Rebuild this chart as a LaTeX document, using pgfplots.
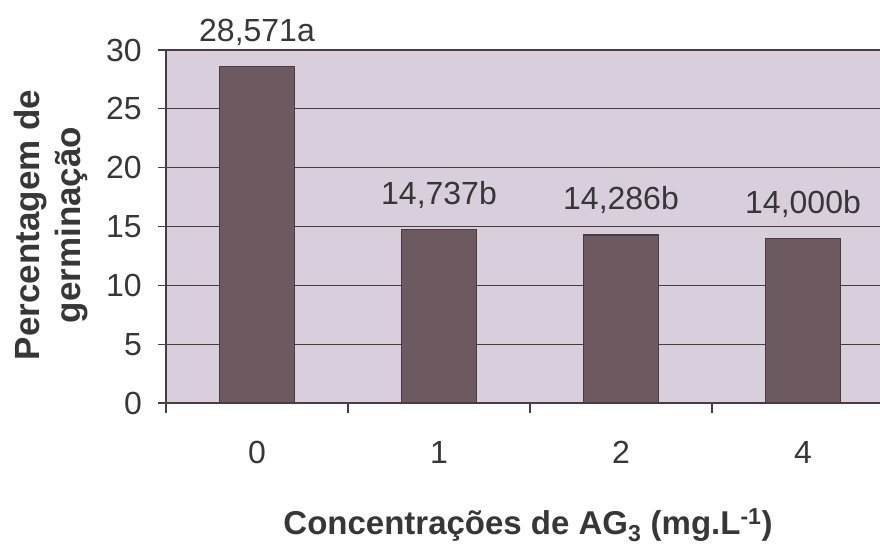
\documentclass[border=0pt]{standalone}
\usepackage{pgfplots}
\pgfplotsset{compat=1.18}
\usepackage{pgfplotstable}
\usepackage{fontspec}
\setmainfont{Liberation Sans}
\definecolor{bgc}{RGB}{216,206,220}
\definecolor{barc}{RGB}{108,90,96}
\definecolor{barline}{RGB}{72,60,66}
\definecolor{gridc}{RGB}{70,62,68}
\definecolor{txtc}{RGB}{55,55,55}
\pgfplotstableread{
x y lab
0 28.571 28,571a
1 14.737 14,737b
2 14.286 14,286b
3 14.000 14,000b
}\datatab
\begin{document}
\begin{tikzpicture}[x=1pt,y=1pt]
\useasboundingbox (0,0) rectangle (880,547);
\begin{axis}[
  at={(166pt,144pt)}, anchor=south west,
  scale only axis, width=714pt, height=353pt,
  xmin=-0.5, xmax=3.423, ymin=0, ymax=30,
  clip=false,
  axis background/.style={fill=bgc},
  axis lines=left,
  axis line style={-, draw=gridc, line width=1.2pt},
  ytick={0,5,...,30},
  ymajorgrids,
  grid style={draw=gridc, line width=1.2pt},
  xtick={0,1,2,3}, xticklabels={0,1,2,4},
  minor xtick={-0.5,0.5,1.5,2.5},
  major x tick style={draw=none},
  minor x tick style={draw=gridc, line width=1.2pt},
  minor tick length=10pt,
  major tick length=8pt,
  tick align=outside,
  y tick style={draw=gridc, line width=1.2pt},
  /pgf/number format/assume math mode=true,
  ticklabel style={font=\fontsize{32}{38}\selectfont, text=txtc},
  yticklabel style={anchor=east, inner sep=0pt, xshift=-16pt},
  xticklabel style={anchor=north, inner sep=0pt, yshift=-30pt},
  ybar, bar width=75pt,
  nodes near coords,
  point meta=explicit symbolic,
  every node near coord/.append style={anchor=base, inner sep=0pt, yshift=25pt, font=\fontsize{32}{38}\selectfont, text=txtc},
]
\addplot[fill=barc, draw=barline, line width=1.2pt] table[x=x, y=y, meta=lab] {\datatab};
\end{axis}
\node[rotate=90, align=center, inner sep=0pt, text=txtc, font=\fontsize{35}{41}\selectfont\bfseries] at (51,322) {Percentagem de\\germinação};
\node[anchor=base, inner sep=0pt, text=txtc, font=\fontsize{33}{40}\selectfont\bfseries] at (528,13) {Concentrações de AG\textsubscript{3} (mg.L\textsuperscript{-1})};
\end{tikzpicture}
\end{document}
